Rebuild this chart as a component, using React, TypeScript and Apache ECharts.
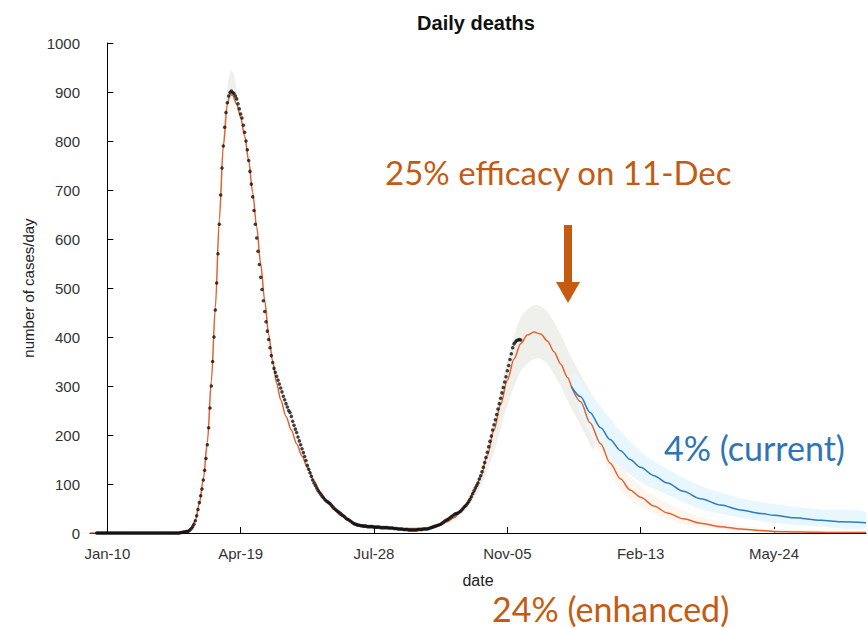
import React, { useEffect, useRef } from "react";
import * as echarts from "echarts";

// x values are days counted from Jan-10 (2020)
const tickDays = [0, 100, 200, 300, 400, 500];
const tickLabels = ["Jan-10", "Apr-19", "Jul-28", "Nov-05", "Feb-13", "May-24"];

// observed daily deaths (black dots), one value per day starting at day -8
const OBS_START_DAY = -8;
const observedDeaths = [
  0, 0, 0, 0, 0, 0, 0, 0, 0, 0,
  0, 0, 0, 0, 0, 0, 0, 0, 0, 0,
  0, 0, 0, 0, 0, 0, 0, 0, 0, 0,
  0, 0, 0, 0, 0, 0, 0, 0, 0, 0,
  0, 0, 0, 0, 0, 0, 0, 0, 0, 0,
  0, 0, 0, 0, 0, 0, 0, 0, 0, 0,
  0, 0, 0, 1, 1, 2, 2, 3, 3, 4,
  6, 9, 13, 18, 25, 35, 48, 62, 76, 90,
  108, 128, 152, 180, 215, 255, 300, 350, 400, 455,
  510, 570, 630, 690, 745, 790, 828, 858, 878, 892,
  899, 902, 899, 897, 892, 886, 876, 866, 855, 847,
  832, 818, 800, 782, 760, 738, 712, 686, 658, 630,
  602, 575, 548, 522, 497, 474, 452, 431, 412, 395,
  378, 362, 348, 336, 328, 320, 312, 304, 296, 288,
  279, 272, 264, 257, 250, 246, 238, 228, 220, 212,
  205, 196, 188, 180, 172, 164, 156, 148, 138, 130,
  123, 116, 108, 102, 97, 92, 87, 83, 79, 75,
  72, 69, 66, 64, 62, 60, 57, 54, 51, 48,
  46, 44, 42, 40, 37, 35, 33, 30, 28, 27,
  25, 23, 21, 19, 18, 17, 16, 16, 15, 15,
  14, 14, 14, 13, 13, 13, 13, 13, 12, 12,
  12, 12, 12, 11, 11, 11, 11, 11, 11, 10,
  10, 10, 10, 9, 9, 9, 8, 8, 8, 8,
  7, 7, 7, 7, 6, 6, 6, 6, 6, 6,
  6, 7, 7, 7, 7, 8, 8, 8, 8, 9,
  10, 11, 12, 13, 14, 15, 16, 17, 18, 20,
  22, 24, 26, 27, 29, 31, 33, 35, 37, 39,
  40, 41, 43, 45, 48, 51, 54, 56, 60, 64,
  69, 74, 80, 86, 92, 97, 102, 110, 117, 125,
  134, 144, 154, 165, 176, 187, 198, 210, 221, 231,
  242, 253, 264, 275, 286, 297, 308, 319, 331, 342,
  354, 366, 378, 386, 390, 393, 394, 395, 394,
];

// model fit (orange) up to the split point
const fitDays = [
  -13, 40, 55, 60, 63, 66, 69, 72, 75, 78, 81, 84, 87, 90, 92, 94, 97, 100, 103,
  106, 109, 112, 115, 118, 121, 124, 127, 130, 134, 138, 142, 146, 150, 155, 160,
  165, 170, 175, 180, 185, 190, 200, 210, 220, 230, 240, 245, 250, 255, 260, 265,
  270, 275, 280, 285, 290, 295, 300, 305, 310, 315, 320, 325, 330, 335, 340, 345, 348,
];
const fitValues = [
  0, 0, 1, 4, 10, 25, 60, 110, 185, 310, 460, 640, 790, 875, 895, 893, 875, 848, 810,
  760, 695, 625, 550, 475, 405, 350, 305, 272, 238, 210, 182, 157, 134, 106, 82,
  63, 48, 36, 27, 21, 17, 12, 10, 9, 9, 10, 13, 17, 23, 31, 43,
  60, 84, 114, 158, 210, 262, 312, 355, 386, 404, 410, 406, 392, 370, 345, 318, 299,
];

// 4% (current) projection – blue
const currentDays = [348, 355, 362, 370, 377, 385, 392, 400, 410, 420, 432, 445, 460, 475, 490, 500, 515, 535, 550, 569];
const currentValues = [299, 278, 246, 215, 191, 168, 150, 134, 117, 102, 85, 70, 57, 47, 40, 36, 31, 26, 23, 21];

// 24% (enhanced) projection – orange
const enhancedDays = [348, 355, 362, 370, 377, 385, 392, 400, 410, 420, 432, 445, 460, 475, 490, 500, 520, 545, 569];
const enhancedValues = [299, 268, 225, 182, 143, 110, 88, 73, 55, 41, 29, 20, 13, 8, 5, 3, 2, 1, 1];

// uncertainty bands
const peakBandDays = [84, 87, 89, 91, 93, 95, 97, 99, 101];
const peakBandUpper = [660, 815, 885, 928, 945, 935, 905, 875, 850];
const peakBandLower = [630, 785, 860, 885, 893, 890, 875, 852, 835];

const waveBandDays = [265, 270, 280, 290, 300, 310, 318, 323, 330, 340, 348, 356, 365];
const waveBandUpper = [48, 68, 128, 232, 355, 440, 462, 465, 452, 405, 358, 318, 270];
const waveBandLower = [38, 52, 95, 165, 260, 330, 352, 357, 345, 300, 255, 215, 170];

const currentBandDays = [350, 360, 370, 385, 400, 420, 445, 475, 500, 535, 569];
const currentBandUpper = [325, 292, 258, 207, 166, 130, 96, 71, 59, 48, 43];
const currentBandLower = [275, 220, 176, 135, 104, 78, 49, 31, 21, 13, 10];

const enhancedBandDays = [350, 370, 385, 400, 420, 445, 475, 500, 569];
const enhancedBandUpper = [318, 212, 138, 95, 60, 32, 15, 8, 3];
const enhancedBandLower = [280, 160, 86, 55, 28, 12, 4, 1, 0];

const ORANGE_LINE = "#E4622F";
const BLUE_LINE = "#2B7CC4";
const NOTE_ORANGE = "#C55A11";
const NOTE_BLUE = "#2E75B6";

function band(days: number[], upper: number[], lower: number[], fill: string, z: number) {
  return {
    type: "custom",
    silent: true,
    z,
    clip: true,
    data: [[days[0], lower[0]]],
    renderItem: (_params: any, api: any) => {
      const top = days.map((d, i) => api.coord([d, upper[i]]));
      const bottom = days.map((d, i) => api.coord([d, lower[i]])).reverse();
      return {
        type: "polygon",
        shape: { points: top.concat(bottom), smooth: 0.25 },
        style: { fill },
      };
    },
  };
}

export default function App() {
  const ref = useRef<HTMLDivElement>(null);
  useEffect(() => {
    if (!ref.current) return;
    const chart = echarts.init(ref.current, undefined, { renderer: "svg" });
    const axisFont = "'Liberation Sans', Arial, sans-serif";
    const noteFont = "Lato, 'Open Sans', sans-serif";
    chart.setOption({
      animation: false,
      backgroundColor: "#ffffff",
      grid: { left: 90, right: 2, top: 43, bottom: 95, containLabel: false },
      xAxis: {
        type: "value",
        min: -13,
        max: 569,
        name: "date",
        nameLocation: "middle",
        nameGap: 39,
        nameTextStyle: { fontFamily: axisFont, fontSize: 16, color: "#222" },
        axisLine: { show: true, lineStyle: { color: "#000", width: 1 } },
        axisTick: { show: true, inside: true, length: 6, customValues: tickDays, lineStyle: { color: "#000" } },
        axisLabel: {
          customValues: tickDays,
          formatter: (v: number) => tickLabels[tickDays.indexOf(v)] ?? "",
          fontFamily: axisFont,
          fontSize: 15,
          color: "#333",
          margin: 13,
        },
        splitLine: { show: false },
      },
      yAxis: {
        type: "value",
        min: 0,
        max: 1000,
        interval: 100,
        name: "number of cases/day",
        nameLocation: "middle",
        nameGap: 50,
        nameTextStyle: { fontFamily: axisFont, fontSize: 15, color: "#222" },
        axisLine: { show: true, lineStyle: { color: "#000", width: 1 } },
        axisTick: { show: true, inside: true, length: 6, lineStyle: { color: "#000" } },
        axisLabel: {
          formatter: (v: number) => String(v),
          fontFamily: axisFont,
          fontSize: 15,
          color: "#333",
          margin: 10,
        },
        splitLine: { show: false },
      },
      series: [
        band(peakBandDays, peakBandUpper, peakBandLower, "#EEF0EA", 1),
        band(waveBandDays, waveBandUpper, waveBandLower, "#EFF0EB", 1),
        band(enhancedBandDays, enhancedBandUpper, enhancedBandLower, "#FEF5EE", 1),
        band(currentBandDays, currentBandUpper, currentBandLower, "#E7F7FD", 1),
        {
          type: "line",
          name: "fit",
          z: 3,
          data: fitDays.map((d, i) => [d, fitValues[i]]),
          showSymbol: false,
          smooth: 0.3,
          smoothMonotone: "x",
          lineStyle: { color: ORANGE_LINE, width: 1.5 },
        },
        {
          type: "line",
          name: "enhanced",
          z: 3,
          data: enhancedDays.map((d, i) => [d, enhancedValues[i]]),
          showSymbol: false,
          smooth: 0.3,
          smoothMonotone: "x",
          lineStyle: { color: ORANGE_LINE, width: 1.5 },
        },
        {
          type: "line",
          name: "current",
          z: 3,
          data: currentDays.map((d, i) => [d, currentValues[i]]),
          showSymbol: false,
          smooth: 0.3,
          smoothMonotone: "x",
          lineStyle: { color: BLUE_LINE, width: 1.5 },
        },
        {
          type: "scatter",
          name: "observed",
          z: 4,
          data: observedDeaths.map((v, i) => [OBS_START_DAY + i, v]),
          symbol: "circle",
          symbolSize: 3.5,
          itemStyle: { color: "#111" },
        },
      ],
      graphic: [
        {
          type: "text",
          x: 476,
          y: 23,
          style: {
            text: "Daily deaths",
            fontFamily: axisFont,
            fontWeight: "bold",
            fontSize: 20,
            fill: "#111",
            align: "center",
            verticalAlign: "middle",
          },
        },
        {
          type: "text",
          x: 385,
          y: 172,
          style: {
            text: "25% efficacy on 11-Dec",
            fontFamily: noteFont,
            fontSize: 33,
            fill: NOTE_ORANGE,
            align: "left",
            verticalAlign: "middle",
          },
        },
        {
          type: "text",
          x: 664,
          y: 447,
          style: {
            text: "4% (current)",
            fontFamily: noteFont,
            fontSize: 34,
            fill: NOTE_BLUE,
            align: "left",
            verticalAlign: "middle",
          },
        },
        {
          type: "text",
          x: 492,
          y: 608,
          style: {
            text: "24% (enhanced)",
            fontFamily: noteFont,
            fontSize: 34,
            fill: NOTE_ORANGE,
            align: "left",
            verticalAlign: "middle",
          },
        },
        {
          type: "rect",
          shape: { x: 564, y: 225, width: 8, height: 58 },
          style: { fill: NOTE_ORANGE },
        },
        {
          type: "polygon",
          shape: { points: [[556, 282], [580, 282], [568, 303]] },
          style: { fill: NOTE_ORANGE },
        },
      ],
    });
    return () => chart.dispose();
  }, []);
  return (
    <div
      ref={ref}
      style={{ position: "fixed", left: 0, top: 0, width: 868, height: 628, background: "#fff" }}
    />
  );
}
